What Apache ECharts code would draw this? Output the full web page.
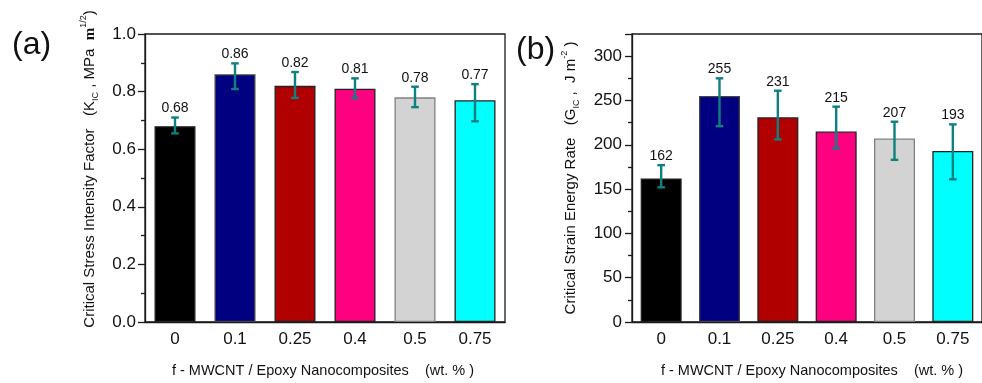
<!DOCTYPE html>
<html>
<head>
<meta charset="utf-8">
<script src="https://cdn.jsdelivr.net/npm/echarts@6/dist/echarts.min.js"></script>
<style>html,body{margin:0;padding:0;background:#fff;}#c{width:982px;height:383px;}</style>
</head>
<body>
<div id="c"></div>
<script>
const categories = ['0', '0.1', '0.25', '0.4', '0.5', '0.75'];
const kicValues = [0.68, 0.86, 0.82, 0.81, 0.78, 0.77];
const kicHigh = [0.71, 0.898, 0.868, 0.846, 0.817, 0.826];
const kicLow = [0.655, 0.809, 0.778, 0.778, 0.746, 0.697];
const gicValues = [162, 255, 231, 215, 207, 193];
const gicHigh = [177, 275, 261, 243, 226, 223];
const gicLow = [152, 221, 206, 196, 183, 161];
const kicTicks = ['0.0', '0.2', '0.4', '0.6', '0.8', '1.0'];
const gicTicks = ['0', '50', '100', '150', '200', '250', '300'];
const barColors = ['#000000', '#000080', '#b00000', '#ff0080', '#d3d3d3', '#00ffff'];
const barBorders = ['#222222', '#444444', '#222222', '#222222', '#808080', '#222222'];

const FONT = 'Liberation Sans, Arial, sans-serif';
const ERR = '#0e8080';
const AX = '#1a1a1a';

const chart = echarts.init(document.getElementById('c'), null, {renderer: 'canvas'});

function barData(vals) {
  return vals.map((v, i) => ({
    value: v,
    itemStyle: {color: barColors[i], borderColor: barBorders[i], borderWidth: 1.3}
  }));
}
function errData(vals, hi, lo) {
  return vals.map((v, i) => [i, hi[i], lo[i], v]);
}
function errRender(decimals) {
  return function (params, api) {
    const x = api.value(0);
    const top = api.coord([x, api.value(1)]);
    const bot = api.coord([x, api.value(2)]);
    const cap = 3.8;
    const style = {stroke: ERR, lineWidth: 2.4};
    const v = api.value(3);
    return {
      type: 'group',
      children: [
        {type: 'line', shape: {x1: top[0], y1: top[1], x2: bot[0], y2: bot[1]}, style},
        {type: 'line', shape: {x1: top[0] - cap, y1: top[1], x2: top[0] + cap, y2: top[1]}, style},
        {type: 'line', shape: {x1: bot[0] - cap, y1: bot[1], x2: bot[0] + cap, y2: bot[1]}, style},
        {type: 'text', x: top[0], y: top[1] - 9,
          style: {text: v.toFixed(decimals), fill: '#111', font: '14px ' + FONT, align: 'center', verticalAlign: 'middle'}}
      ]
    };
  };
}

const nameRich = {
  n: {fontSize: 15, fontFamily: FONT, color: '#111', lineHeight: 22, verticalAlign: 'middle'},
  sub: {fontSize: 9, fontFamily: FONT, color: '#111', lineHeight: 22, verticalAlign: 'bottom', padding: [0, 0, 1, 0]},
  sup: {fontSize: 9, fontFamily: FONT, color: '#111', lineHeight: 22, verticalAlign: 'top'},
  m: {fontSize: 15, fontFamily: 'Liberation Serif, serif', fontWeight: 'bold', color: '#111', lineHeight: 22, verticalAlign: 'middle'}
};

function xAxes(gridIndex, nameShift) {
  return [
    {
      type: 'category', gridIndex, data: categories,
      axisLine: {lineStyle: {color: AX, width: 1.3}},
      axisTick: {alignWithLabel: true, length: 7, lineStyle: {color: AX, width: 1.3}},
      axisLabel: {fontSize: 17, fontFamily: FONT, color: '#111', margin: 9},
      name: 'f - MWCNT / Epoxy Nanocomposites    (wt. % )',
      nameLocation: 'middle', nameGap: 41,
      nameTextStyle: {fontSize: 14.5, fontFamily: FONT, color: '#111', padding: nameShift}
    },
    {
      type: 'category', gridIndex, data: categories,
      axisLine: {show: false},
      axisTick: {alignWithLabel: false, length: 4, lineStyle: {color: AX, width: 1.3}},
      axisLabel: {show: false}
    }
  ];
}

const option = {
  animation: false,
  backgroundColor: '#fff',
  grid: [
    {left: 145, top: 34, width: 360, bottom: 56, show: true, borderColor: AX, borderWidth: 1.3, backgroundColor: 'transparent'},
    {left: 632, top: 34, width: 359, bottom: 56, show: true, borderColor: AX, borderWidth: 1.3, backgroundColor: 'transparent'}
  ],
  xAxis: [...xAxes(0, [0, 4, 0, 0]), ...xAxes(1, [0, 0, 0, 10])],
  yAxis: [
    {
      type: 'value', gridIndex: 0, min: 0, max: 1, interval: 0.2,
      axisLine: {show: true, lineStyle: {color: AX, width: 1.3}},
      axisTick: {show: true, length: 7, lineStyle: {color: AX, width: 1.3}},
      minorTick: {show: true, splitNumber: 2, length: 4, lineStyle: {color: AX, width: 1.3}},
      splitLine: {show: false},
      axisLabel: {fontSize: 17, fontFamily: FONT, color: '#111', margin: 9,
        formatter: (v) => kicTicks[Math.round(v / 0.2)]},
      name: '{n|Critical Stress Intensity Factor   (K}{sub|IC}{n| , MPa  }{m|m}{sup|1/2}{n|)}',
      nameLocation: 'middle', nameRotate: 90, nameGap: 44,
      nameTextStyle: {rich: nameRich, padding: [0, 0, 0, 18]}
    },
    {
      type: 'value', gridIndex: 1, min: 0, max: 325, interval: 50,
      axisLine: {show: true, lineStyle: {color: AX, width: 1.3}},
      axisTick: {show: true, length: 7, lineStyle: {color: AX, width: 1.3}},
      minorTick: {show: true, splitNumber: 2, length: 4, lineStyle: {color: AX, width: 1.3}},
      splitLine: {show: false},
      axisLabel: {fontSize: 17, fontFamily: FONT, color: '#111', margin: 10, showMaxLabel: false,
        formatter: (v) => (v % 50 === 0 ? gicTicks[v / 50] : '')},
      name: '{n|Critical Strain Energy Rate   (G}{sub|IC}{n| ,  J m}{sup|-2}{n| )}',
      nameLocation: 'middle', nameRotate: 90, nameGap: 50,
      nameTextStyle: {rich: nameRich}
    }
  ],
  series: [
    {type: 'bar', xAxisIndex: 0, yAxisIndex: 0, barWidth: 41, data: barData(kicValues), z: 2},
    {type: 'custom', xAxisIndex: 0, yAxisIndex: 0, renderItem: errRender(2), data: errData(kicValues, kicHigh, kicLow), z: 5},
    {type: 'bar', xAxisIndex: 2, yAxisIndex: 1, barWidth: 41, data: barData(gicValues), z: 2},
    {type: 'custom', xAxisIndex: 2, yAxisIndex: 1, renderItem: errRender(0), data: errData(gicValues, gicHigh, gicLow), z: 5}
  ],
  graphic: [
    {type: 'text', left: 12, top: 29, style: {text: '(a)', font: '32px ' + FONT, fill: '#111'}},
    {type: 'text', left: 516, top: 34, style: {text: '(b)', font: '32px ' + FONT, fill: '#111'}}
  ]
};
chart.setOption(option);
</script>
</body>
</html>
